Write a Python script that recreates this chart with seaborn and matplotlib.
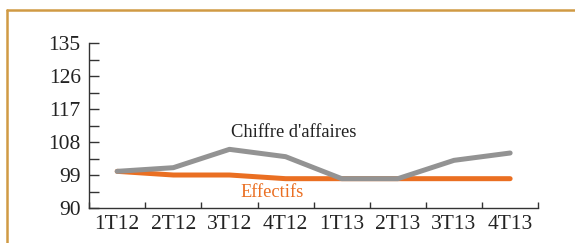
import numpy as np
import pandas as pd
import seaborn as sns
import matplotlib.pyplot as plt
from matplotlib.lines import Line2D
from matplotlib.ticker import MultipleLocator, FixedLocator

# donnees
trimestres = ["1T12", "2T12", "3T12", "4T12", "1T13", "2T13", "3T13", "4T13"]
chiffre_affaires = [100, 101, 106, 104, 98, 98, 103, 105]
effectifs = [100, 99, 99, 98, 98, 98, 98, 98]

tabela = pd.DataFrame({
    "trimestre": trimestres * 2,
    "valeur": chiffre_affaires + effectifs,
    "serie": ["Chiffre d'affaires"] * 8 + ["Effectifs"] * 8,
})

sns.set_style("white")
plt.rcParams["font.family"] = ["Liberation Serif", "DejaVu Serif"]

fig = plt.figure(figsize=(5.75, 2.43), dpi=100)
ax = fig.add_axes([0.155, 0.144, 0.781, 0.679])

sns.lineplot(data=tabela, x="trimestre", y="valeur", hue="serie",
             palette={"Chiffre d'affaires": "#939393", "Effectifs": "#ea6f22"},
             hue_order=["Effectifs", "Chiffre d'affaires"],
             linewidth=3.6, legend=False, ax=ax, sort=False)

ax.set_xlim(-0.5, len(trimestres) - 0.5)
ax.set_ylim(90, 135)
ax.yaxis.set_major_locator(MultipleLocator(9))
ax.yaxis.set_minor_locator(MultipleLocator(4.5))
ax.xaxis.set_minor_locator(FixedLocator(np.arange(-0.5, len(trimestres), 1)))
ax.tick_params(axis="y", which="both", left=True, direction="in", length=7,
               width=1, color="#333333", labelsize=15.5, labelcolor="#222222",
               pad=6)
ax.tick_params(axis="x", which="major", bottom=True, length=0, labelsize=15.5,
               labelcolor="#222222", pad=5)
ax.tick_params(axis="x", which="minor", bottom=True, direction="in", length=4,
               width=1, color="#333333")
ax.set_xlabel("")
ax.set_ylabel("")
sns.despine(ax=ax)
for s in ["left", "bottom"]:
    ax.spines[s].set_color("#333333")
    ax.spines[s].set_linewidth(1)

ax.text(3.14, 110.5, "Chiffre d'affaires", fontsize=13.3, color="#222222",
        ha="center", va="center")
ax.text(2.76, 94.1, "Effectifs", fontsize=13.2, color="#ea6f22",
        ha="center", va="center")

# cadre dore
fig.add_artist(Line2D([7 / 575, 1], [1 - 10 / 243, 1 - 10 / 243],
                      transform=fig.transFigure, color="#d09a44", linewidth=1.8))
fig.add_artist(Line2D([7 / 575, 7 / 575], [0, 1 - 10 / 243],
                      transform=fig.transFigure, color="#d09a44", linewidth=1.8))

fig.savefig("out.png", dpi=100)
